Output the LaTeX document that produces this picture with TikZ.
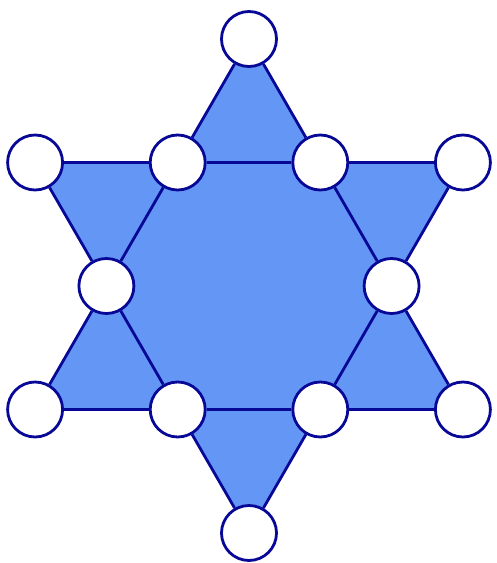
\documentclass[tikz,border=0pt]{standalone}
\usepackage{tikz}
\usetikzlibrary{positioning,backgrounds}
\definecolor{starfill}{RGB}{100,150,245}
\definecolor{starline}{RGB}{8,8,150}

\begin{document}
\begin{tikzpicture}[
    x=1pt, y=1pt,
    dot/.style={circle, draw=starline, fill=white, line width=2.8pt, minimum size=55pt, inner sep=0pt},
    side/.style={draw=starline, line width=2.8pt}
  ]
    \useasboundingbox (0,0) rectangle (497,-563);
    \coordinate (mid) at (249,-286);

    % outer points of the star
    \node[dot] (top)   at ([shift={(90:247)}]mid) {};
    \node[dot] (upl)   at ([shift={(150:247)}]mid) {};
    \node[dot] (lowl)  at ([shift={(210:247)}]mid) {};
    \node[dot] (bot)   at ([shift={(270:247)}]mid) {};
    \node[dot] (lowr)  at ([shift={(330:247)}]mid) {};
    \node[dot] (upr)   at ([shift={(30:247)}]mid) {};

    % inner crossings
    \node[dot] (inr)   at ([shift={(0:142.6)}]mid) {};
    \node[dot] (inur)  at ([shift={(60:142.6)}]mid) {};
    \node[dot] (inul)  at ([shift={(120:142.6)}]mid) {};
    \node[dot] (inl)   at ([shift={(180:142.6)}]mid) {};
    \node[dot] (inll)  at ([shift={(240:142.6)}]mid) {};
    \node[dot] (inlr)  at ([shift={(300:142.6)}]mid) {};

    \begin{scope}[on background layer]
      \fill[starfill] (top.center) -- (lowl.center) -- (lowr.center) -- cycle;
      \fill[starfill] (bot.center) -- (upl.center) -- (upr.center) -- cycle;
    \end{scope}

    % upward triangle
    \draw[side] (top) -- (inul);
    \draw[side] (inul) -- (inl);
    \draw[side] (inl) -- (lowl);
    \draw[side] (lowl) -- (inll);
    \draw[side] (inll) -- (inlr);
    \draw[side] (inlr) -- (lowr);
    \draw[side] (lowr) -- (inr);
    \draw[side] (inr) -- (inur);
    \draw[side] (inur) -- (top);
    % downward triangle
    \draw[side] (bot) -- (inll);
    \draw[side] (inll) -- (inl);
    \draw[side] (inl) -- (upl);
    \draw[side] (upl) -- (inul);
    \draw[side] (inul) -- (inur);
    \draw[side] (inur) -- (upr);
    \draw[side] (upr) -- (inr);
    \draw[side] (inr) -- (inlr);
    \draw[side] (inlr) -- (bot);
  \end{tikzpicture}
\end{document}
